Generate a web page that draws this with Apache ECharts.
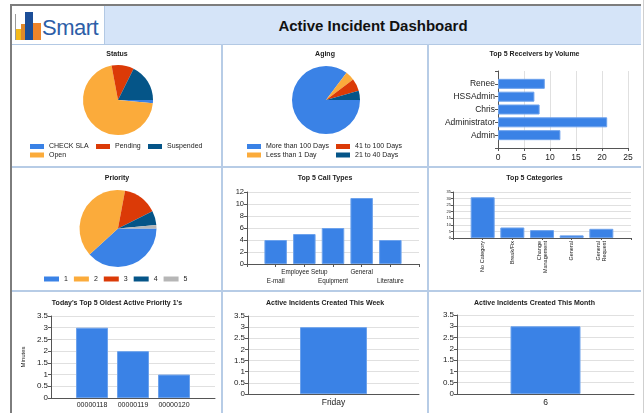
<!DOCTYPE html>
<html>
<head>
<meta charset="utf-8">
<script src="https://cdn.jsdelivr.net/npm/echarts@6/dist/echarts.min.js"></script>
<style>
html, body { margin: 0; padding: 0; background: #fff; }
body { width: 644px; height: 413px; position: relative; overflow: hidden; font-family: "Liberation Sans", Arial, sans-serif; }
.abs { position: absolute; }
.frame-top { left: 10px; top: 4px; width: 631px; height: 2px; background: #7d7d7d; }
.frame-left { left: 10px; top: 4px; width: 2px; height: 409px; background: #7d7d7d; }
.frame-right { left: 643px; top: 0; width: 1px; height: 413px; background: #cfcfcf; }
.header { left: 12px; top: 6px; width: 629px; height: 38px; background: #d5e4f8; border-bottom: 1px solid #b3c9e4; }
.logo { left: 12px; top: 6px; width: 92px; height: 38px; background: #fff; border-right: 1px solid #b3c9e4; border-bottom: 1px solid #b3c9e4; }
.logo-text { left: 42px; top: 15px; font-size: 22px; color: #2d5ea7; letter-spacing: -0.5px; }
.title { left: 105px; top: 6px; width: 536px; height: 38px; line-height: 40px; text-align: center; font-weight: bold; font-size: 15px; color: #111; }
.vline { width: 2px; background: #b7cce6; }
.hline { height: 2px; background: #b7cce6; }
.chart { position: absolute; }
</style>
</head>
<body>
<div class="abs header"></div>
<div class="abs logo"></div>
<div class="abs" style="left:15px;top:14px;width:1px;height:26px;background:#9a9a9a"></div>
<div class="abs" style="left:16px;top:29px;width:5px;height:11px;background:#f3b91a"></div>
<div class="abs" style="left:21px;top:24px;width:4px;height:16px;background:#e0892a"></div>
<div class="abs" style="left:25px;top:12px;width:8px;height:28px;background:#1c4e98"></div>
<div class="abs" style="left:33px;top:23px;width:8px;height:17px;background:#ef8428"></div>
<div class="abs logo-text">Smart</div>
<div class="abs title">Active Incident Dashboard</div>

<div id="c1" class="chart" style="left:12px;top:45px;width:210px;height:122px"></div>
<div id="c2" class="chart" style="left:222px;top:45px;width:206px;height:122px"></div>
<div id="c3" class="chart" style="left:428px;top:45px;width:213px;height:122px"></div>
<div id="c4" class="chart" style="left:12px;top:167px;width:210px;height:124px"></div>
<div id="c5" class="chart" style="left:222px;top:167px;width:206px;height:124px"></div>
<div id="c6" class="chart" style="left:428px;top:167px;width:213px;height:124px"></div>
<div id="c7" class="chart" style="left:12px;top:291px;width:210px;height:122px"></div>
<div id="c8" class="chart" style="left:222px;top:291px;width:206px;height:122px"></div>
<div id="c9" class="chart" style="left:428px;top:291px;width:213px;height:122px"></div>

<div class="abs vline" style="left:221px;top:44px;height:369px"></div>
<div class="abs vline" style="left:427px;top:44px;height:369px"></div>
<div class="abs hline" style="left:12px;top:166px;width:629px"></div>
<div class="abs hline" style="left:12px;top:290px;width:629px"></div>
<div class="abs frame-top"></div>
<div class="abs frame-left"></div>
<div class="abs frame-right"></div>

<script>
// values
const statusNames = ['CHECK SLA', 'Open', 'Pending', 'Suspended']
const statusCounts = [1, 48, 7, 12]
const agingNames = ['More than 100 Days', 'Less than 1 Day', '41 to 100 Days', '21 to 40 Days']
const agingCounts = [58, 3, 4, 3]
const receiverNames = ['Renee', 'HSSAdmin', 'Chris', 'Administrator', 'Admin']
const receiverCounts = [9, 7, 8, 21, 12]
const priorityNames = ['1', '2', '3', '4', '5']
const priorityCounts = [26, 27, 10, 4, 1]
const callTypes = ['E-mail', 'Employee Setup', 'Equipment', 'General', 'Literature']
const callTypeCounts = [4, 5, 6, 11, 4]
const categoryNames = ['No Category', 'Break/Fix', 'Change Management', 'General', 'General Request']
const categoryCounts = [31, 8, 6, 2, 7]
const oldestIds = ['00000118', '00000119', '00000120']
const oldestMinutes = [3, 2, 1]
const weekDays = ['Friday']
const weekCounts = [3]
const monthDays = ['6']
const monthCounts = [3]

const font = 'Liberation Sans'
const palette = ['#3a82e6', '#fbab3b', '#db3a07', '#055588', '#b6b6b6']
const axisColor = '#555'
const gridColor = '#e0e0e0'

// pad categories so they sit at 1..n on a 0..n+1 axis
const pad = (arr) => ['', ...arr, '']
const padVals = (arr) => ['-', ...arr, '-']

function titleOpt(text, top) {
  return {
    text: text,
    left: 'center',
    top: top,
    padding: 0,
    textStyle: { fontSize: 7, fontWeight: 'bold', color: '#222', fontFamily: font },
  }
}

function legendOpt(names, left, top, orient) {
  return {
    data: names,
    orient: orient || 'vertical',
    left: left,
    top: top,
    padding: 0,
    icon: 'rect',
    itemWidth: 14,
    itemHeight: 5,
    itemGap: orient === 'horizontal' ? 6 : 1.5,
    selectedMode: false,
    textStyle: { fontSize: 7, color: '#222', fontFamily: font },
  }
}

function pieOpt(title, titleTop, names, values, center, radius, legends) {
  return {
    animation: false,
    color: palette,
    textStyle: { fontFamily: font },
    title: titleOpt(title, titleTop),
    legend: legends,
    series: [
      {
        type: 'pie',
        silent: true,
        startAngle: 0,
        clockwise: true,
        center: center,
        radius: radius,
        label: { show: false },
        labelLine: { show: false },
        data: names.map((n, i) => ({ name: n, value: values[i] })),
      },
    ],
  }
}

function valueAxis(min, max, interval, fontSize) {
  return {
    type: 'value',
    min: min,
    max: max,
    interval: interval,
    axisLine: { show: true, lineStyle: { color: axisColor } },
    axisTick: { show: true, length: 3, lineStyle: { color: axisColor } },
    axisLabel: { fontSize: fontSize, color: '#222', margin: 3, fontFamily: font },
    splitLine: { show: true, lineStyle: { color: gridColor } },
  }
}

function barSeries(values, width) {
  return {
    type: 'bar',
    silent: true,
    barWidth: width,
    data: values,
    itemStyle: { color: palette[0], borderColor: '#6da2ec', borderWidth: 1 },
  }
}

const charts = {}
for (let i = 1; i <= 9; i++) {
  charts[i] = echarts.init(document.getElementById('c' + i), null, { renderer: 'canvas' })
}

charts[1].setOption(
  pieOpt('Status', 6, statusNames, statusCounts, [106, 55], 35, [
    legendOpt(['CHECK SLA', 'Open'], 18, 98),
    legendOpt(['Pending'], 84, 98),
    legendOpt(['Suspended'], 136, 98),
  ])
)

charts[2].setOption(
  pieOpt('Aging', 6, agingNames, agingCounts, [104, 55], 34, [
    legendOpt(['More than 100 Days', 'Less than 1 Day'], 25, 98),
    legendOpt(['41 to 100 Days', '21 to 40 Days'], 114, 98),
  ])
)

charts[3].setOption({
  animation: false,
  textStyle: { fontFamily: font },
  title: titleOpt('Top 5 Receivers by Volume', 6),
  grid: { left: 70, right: 13, top: 26, bottom: 19, containLabel: false },
  xAxis: valueAxis(0, 25, 5, 8.5),
  yAxis: {
    type: 'category',
    boundaryGap: false,
    data: pad(receiverNames.slice().reverse()),
    axisLine: { show: true, lineStyle: { color: axisColor } },
    axisTick: { show: true, length: 3, interval: 0, lineStyle: { color: axisColor } },
    axisLabel: { fontSize: 8.5, color: '#222', margin: 3, interval: 0, fontFamily: font },
    splitLine: { show: false },
  },
  series: [barSeries(padVals(receiverCounts.slice().reverse()), 10)],
})
charts[3].setOption({ xAxis: { axisLabel: { margin: 5 } } })

charts[4].setOption(
  pieOpt('Priority', 8, priorityNames, priorityCounts, [106, 61.5], 38.5, [
    Object.assign(legendOpt(priorityNames, 32, 108.5, 'horizontal'), { itemWidth: 15 }),
  ])
)

charts[5].setOption({
  animation: false,
  textStyle: { fontFamily: font },
  title: titleOpt('Top 5 Call Types', 8),
  grid: { left: 25, right: 9, top: 25, bottom: 27 },
  xAxis: {
    type: 'category',
    boundaryGap: false,
    data: pad(callTypes),
    axisLine: { show: true, lineStyle: { color: axisColor } },
    axisTick: { show: true, length: 3, interval: 0, lineStyle: { color: axisColor } },
    axisLabel: {
      interval: 0,
      fontSize: 6.3,
      lineHeight: 9,
      margin: 4,
      color: '#222',
      fontFamily: font,
      formatter: (v, i) => (i % 2 === 1 ? '\n' + v : v),
    },
  },
  yAxis: valueAxis(0, 12, 2, 7.5),
  series: [barSeries(padVals(callTypeCounts), 22.5)],
})

charts[6].setOption({
  animation: false,
  textStyle: { fontFamily: font },
  title: titleOpt('Top 5 Categories', 8),
  grid: { left: 25, right: 10, top: 25, bottom: 53 },
  xAxis: {
    type: 'category',
    boundaryGap: false,
    data: pad(categoryNames),
    axisLine: { show: true, lineStyle: { color: axisColor } },
    axisTick: { show: true, length: 2, interval: 0, lineStyle: { color: axisColor } },
    axisLabel: {
      interval: 0,
      rotate: 90,
      fontSize: 5.5,
      lineHeight: 6,
      margin: 3,
      color: '#222',
      fontFamily: font,
      align: 'right',
      formatter: (v) => (v.length > 11 ? v.replace(' ', '\n') : v),
    },
  },
  yAxis: Object.assign(valueAxis(0, 35, 5, 4), {
    axisTick: { show: true, length: 2, lineStyle: { color: axisColor } },
  }),
  series: [barSeries(padVals(categoryCounts), 24)],
})
charts[6].setOption({ yAxis: { axisLabel: { margin: 2 } } })

charts[7].setOption({
  animation: false,
  textStyle: { fontFamily: font },
  title: titleOpt("Today's Top 5 Oldest Active Priority 1's", 9),
  grid: { left: 38, right: 7, top: 25, bottom: 15 },
  xAxis: {
    type: 'category',
    boundaryGap: false,
    data: pad(oldestIds),
    axisLine: { show: true, lineStyle: { color: axisColor } },
    axisTick: { show: false },
    axisLabel: { interval: 0, fontSize: 7, margin: 4, color: '#222', fontFamily: font },
  },
  yAxis: Object.assign(valueAxis(0, 3.5, 0.5, 8), {
    name: 'Minutes',
    nameLocation: 'middle',
    nameRotate: 90,
    nameGap: 24,
    nameTextStyle: { fontSize: 6, color: '#222', fontFamily: font },
  }),
  series: [barSeries(padVals(oldestMinutes), 32)],
})

charts[8].setOption({
  animation: false,
  textStyle: { fontFamily: font },
  title: titleOpt('Active Incidents Created This Week', 9),
  grid: { left: 26, right: 9, top: 25, bottom: 19 },
  xAxis: {
    type: 'category',
    data: weekDays,
    axisLine: { show: true, lineStyle: { color: axisColor } },
    axisTick: { show: false },
    axisLabel: { fontSize: 8.5, margin: 4, color: '#222', fontFamily: font },
  },
  yAxis: valueAxis(0, 3.5, 0.5, 8),
  series: [barSeries(weekCounts, 67)],
})

charts[9].setOption({
  animation: false,
  textStyle: { fontFamily: font },
  title: titleOpt('Active Incidents Created This Month', 9),
  grid: { left: 29, right: 7, top: 24, bottom: 19 },
  xAxis: {
    type: 'category',
    data: monthDays,
    axisLine: { show: true, lineStyle: { color: axisColor } },
    axisTick: { show: false },
    axisLabel: { fontSize: 8.5, margin: 4, color: '#222', fontFamily: font },
  },
  yAxis: valueAxis(0, 3.5, 0.5, 8),
  series: [barSeries(monthCounts, 70)],
})
</script>
</body>
</html>
